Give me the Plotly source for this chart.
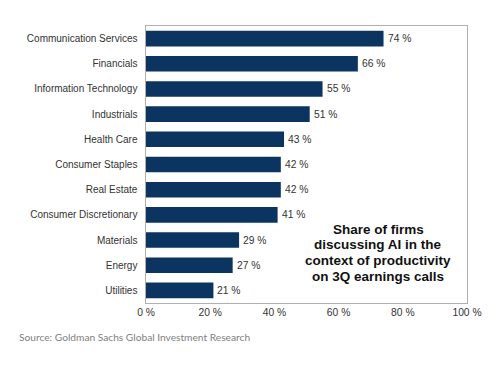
import plotly.graph_objects as go

categories = ["Communication Services", "Financials", "Information Technology", "Industrials",
              "Health Care", "Consumer Staples", "Real Estate", "Consumer Discretionary",
              "Materials", "Energy", "Utilities"]
values = [74, 66, 55, 51, 43, 42, 42, 41, 29, 27, 21]
tick_vals = [0, 20, 40, 60, 80, 100]
tick_text = ["0 %", "20 %", "40 %", "60 %", "80 %", "100 %"]
note_lines = ["Share of firms", "discussing AI in the", "context of productivity", "on 3Q earnings calls"]
source_text = "Source: Goldman Sachs Global Investment Research"

FONT = "Arial, Liberation Sans, sans-serif"

fig = go.Figure(go.Bar(
    x=values, y=categories, orientation="h",
    marker=dict(color="#0b3560", line=dict(width=0)),
))

# page body has an 8px margin; plot area target (window px): x 146-467, y 26-303
L, T, W, H = 138, 18, 321, 277
annotations = []
for cat, v in zip(categories, values):
    annotations.append(dict(
        text=f"{v} %", x=v, y=cat, xref="x", yref="y", xanchor="left", yanchor="middle",
        xshift=2, showarrow=False, font=dict(family=FONT, size=10.3, color="#333333")))
line_y = [221, 236.3, 252, 268.7]
for txt, fy in zip(note_lines, line_y):
    annotations.append(dict(
        text=f"<b>{txt}</b>", xref="paper", yref="paper",
        x=(370.3 - L) / W, y=(T + H - fy) / H, xanchor="center", yanchor="middle",
        showarrow=False, font=dict(family=FONT, size=13.5, color="#111111")))
annotations.append(dict(
    text=source_text, xref="paper", yref="paper",
    x=(9 - L) / W, y=(T + H - 329) / H, xanchor="left", yanchor="middle",
    showarrow=False, font=dict(family="Lato", size=10.2, color="#808080")))

fig.update_layout(
    width=500, height=366,
    margin=dict(l=L, r=500 - L - W, t=T, b=366 - T - H),
    paper_bgcolor="white", plot_bgcolor="white",
    bargap=0.38,
    showlegend=False,
    xaxis=dict(range=[0, 100], tickvals=tick_vals, ticktext=tick_text,
               showgrid=False, zeroline=False, showline=True, mirror=True,
               linecolor="#b0b0b0", linewidth=1, ticks="", automargin=False,
               tickfont=dict(family=FONT, size=10.3, color="#333333")),
    yaxis=dict(autorange="reversed", showgrid=False, showline=True, mirror=True,
               linecolor="#b0b0b0", linewidth=1, ticks="", automargin=False,
               ticksuffix="  ",
               tickfont=dict(family=FONT, size=10, color="#333333")),
    annotations=annotations,
)

fig.write_html("out.html")
